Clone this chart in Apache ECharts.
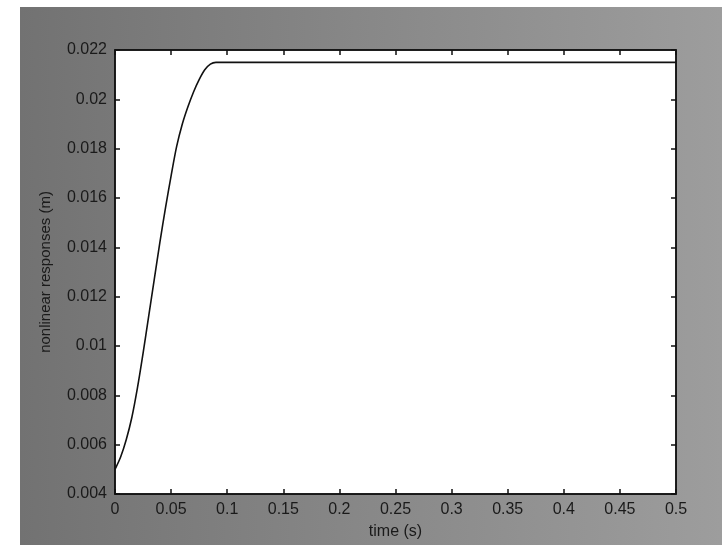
<!DOCTYPE html>
<html>
<head>
<meta charset="utf-8">
<script src="https://cdn.jsdelivr.net/npm/echarts@6/dist/echarts.min.js"></script>
<style>html,body{margin:0;padding:0;background:#fff;}#c{width:722px;height:545px;}</style>
</head>
<body>
<div id="c"></div>
<script>
var timeS = [0, 0.005, 0.010, 0.015, 0.020, 0.025, 0.030, 0.035, 0.040, 0.045, 0.050, 0.055, 0.060, 0.065, 0.070, 0.075, 0.080, 0.085, 0.090, 0.5];
var responseM = [0.00500, 0.00550, 0.00620, 0.00710, 0.00830, 0.00970, 0.01120, 0.01270, 0.01420, 0.01560, 0.01690, 0.01810, 0.01900, 0.01970, 0.02030, 0.02080, 0.02120, 0.02143, 0.02150, 0.02150];
var xTickLabels = ['0', '0.05', '0.1', '0.15', '0.2', '0.25', '0.3', '0.35', '0.4', '0.45', '0.5'];
var yTickLabels = ['0.004', '0.006', '0.008', '0.01', '0.012', '0.014', '0.016', '0.018', '0.02', '0.022'];
var xName = 'time (s)';
var yName = 'nonlinear responses (m)';

var chart = echarts.init(document.getElementById('c'), null, {renderer: 'canvas'});
var font = 'Liberation Sans, Arial, sans-serif';
function xFmt(v) { var i = Math.round(v / 0.05); return xTickLabels[i] !== undefined ? xTickLabels[i] : ''; }
function yFmt(v) { var i = Math.round((v - 0.004) / 0.002); return yTickLabels[i] !== undefined ? yTickLabels[i] : ''; }
var axisLine = {show: true, onZero: false, lineStyle: {color: '#111', width: 1.5}};
var tick = {show: true, inside: true, length: 5, lineStyle: {color: '#111', width: 1.5}};
var label = {color: '#1a1a1a', fontFamily: font, fontSize: 16};

chart.setOption({
  animation: false,
  backgroundColor: '#ffffff',
  graphic: [{
    type: 'rect', left: 20, top: 7, z: -10,
    shape: {width: 702, height: 538},
    style: {fill: {type: 'linear', x: 0, y: 0, x2: 1, y2: 0, colorStops: [
      {offset: 0, color: '#727272'}, {offset: 0.5, color: '#888888'}, {offset: 1, color: '#9d9d9d'}]}}
  }],
  grid: {left: 115, top: 50, right: 46, bottom: 51, show: true, backgroundColor: '#ffffff', borderColor: '#111', borderWidth: 1.5},
  xAxis: [{
    type: 'value', min: 0, max: 0.5, interval: 0.05, position: 'bottom',
    name: xName, nameLocation: 'middle', nameGap: 30,
    nameTextStyle: {color: '#1a1a1a', fontFamily: font, fontSize: 16},
    axisLine: axisLine, axisTick: tick, splitLine: {show: false},
    axisLabel: Object.assign({margin: 8, formatter: xFmt}, label)
  }, {
    type: 'value', min: 0, max: 0.5, interval: 0.05, position: 'top',
    axisLine: axisLine, axisTick: tick, splitLine: {show: false}, axisLabel: {show: false}
  }],
  yAxis: [{
    type: 'value', min: 0.004, max: 0.022, interval: 0.002, position: 'left',
    name: yName, nameLocation: 'middle', nameGap: 62, nameRotate: 90,
    nameTextStyle: {color: '#1a1a1a', fontFamily: font, fontSize: 15},
    axisLine: axisLine, axisTick: tick, splitLine: {show: false},
    axisLabel: Object.assign({margin: 8, formatter: yFmt}, label)
  }, {
    type: 'value', min: 0.004, max: 0.022, interval: 0.002, position: 'right',
    axisLine: axisLine, axisTick: tick, splitLine: {show: false}, axisLabel: {show: false}
  }],
  series: [{
    type: 'line', smooth: 0.3, showSymbol: false,
    data: timeS.map(function (t, i) { return [t, responseM[i]]; }),
    lineStyle: {color: '#111', width: 1.6}
  }]
});
</script>
</body>
</html>
